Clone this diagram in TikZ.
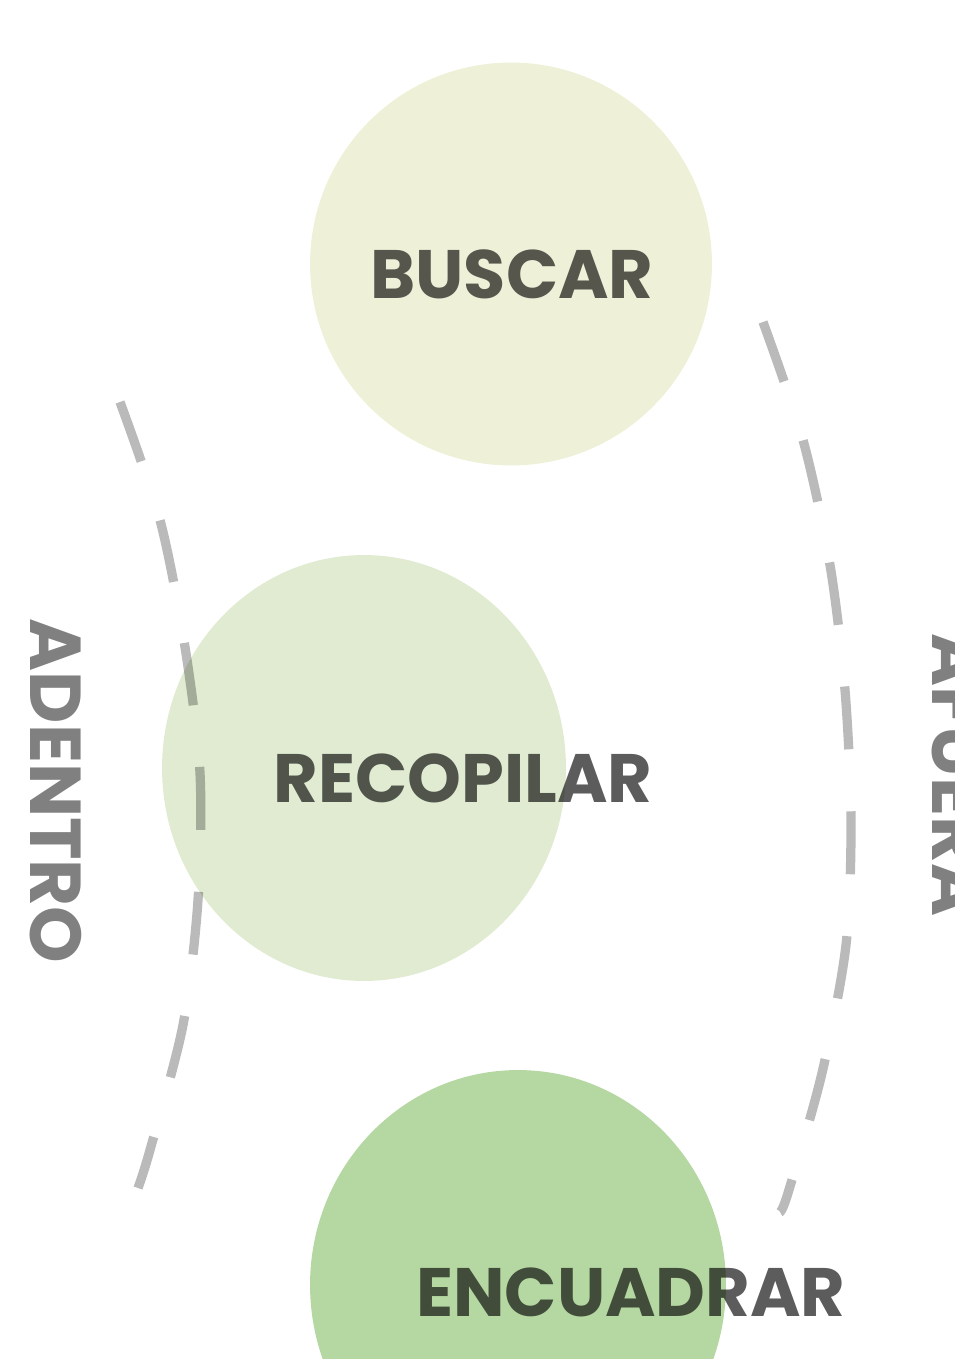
\documentclass[tikz,border=0pt]{standalone}
\usepackage{fontspec}
\setmainfont{Poppins}
\usetikzlibrary{shapes.geometric}

\definecolor{buscarfill}{HTML}{EFF0D8}
\definecolor{recopfill}{HTML}{E0EBD2}
\definecolor{encuadfill}{HTML}{B5D7A2}

\begin{document}
\begin{tikzpicture}[x=0.02cm, y=0.02cm,
    blob/.style={ellipse, draw=none, inner sep=0pt},
    word/.style={inner sep=0pt, text=black, text opacity=0.64, font=\bfseries\fontsize{39}{39}\selectfont},
    side/.style={inner sep=0pt, text=black!50, rotate=-90, font=\bfseries\fontsize{41}{41}\selectfont},
    track/.style={black, opacity=0.27, line width=0.185cm, dash pattern=on 1.26cm off 1.24cm}]

    \path[use as bounding box, clip] (0,0) rectangle (954,-1359);

    \node [blob, fill=buscarfill, minimum width=8.04cm, minimum height=8.06cm] (buscar) at (511,-264) {};
    \node [blob, fill=recopfill, minimum width=8.08cm, minimum height=8.52cm] (recopilar) at (364,-768) {};
    \node [blob, fill=encuadfill, minimum width=8.32cm, minimum height=8.6cm] (encuadrar) at (518,-1285) {};

    % dashed tracks
    \draw [track] plot [smooth] coordinates {(120,-402) (160,-520) (185,-647) (200,-773) (198,-900) (183,-1025) (150,-1150) (138,-1188)};
    \draw [track] plot [smooth] coordinates {(763,-322) (803,-440) (830,-565) (845,-690) (851,-820) (846,-945) (822,-1073) (788,-1193) (780,-1212)};

    \node [word] (buscarlbl) at (512,-274) {BUSCAR};
    \node [word] (recopilarlbl) at (463,-778) {RECOPILAR};
    \node [word] (encuadrarlbl) at (631,-1292) {ENCUADRAR};

    \node [side] (adentro) at (56,-791) {ADENTRO};
    \node [side] (afuera) at (958,-775) {AFUERA};
\end{tikzpicture}
\end{document}
